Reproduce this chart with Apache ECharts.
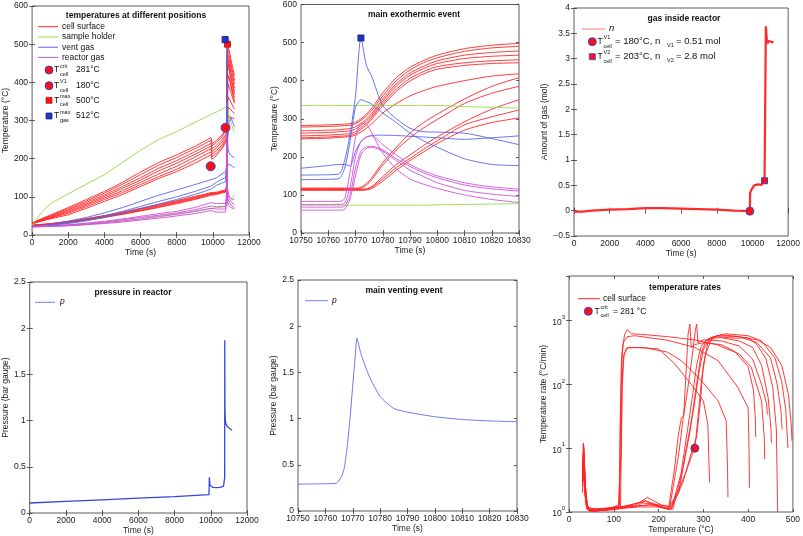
<!DOCTYPE html>
<html><head><meta charset="utf-8">
<script src="https://cdn.jsdelivr.net/npm/echarts@6/dist/echarts.min.js"></script>
<style>html,body{margin:0;padding:0;background:#fff}#c{width:803px;height:536px}</style>
</head><body><div id="c"></div><script>
// ---------------- DATA ----------------
// time bases (s)
const preT  = [0, 500, 1000, 2000, 3000, 4000, 5000, 6000, 7000, 8000, 9000, 9900, 9960, 10200, 10500, 10700];
const evT   = [10750, 10760, 10764, 10766, 10768, 10770, 10772, 10774, 10776, 10780, 10785, 10790, 10795, 10800, 10810, 10820, 10830];
const postT = [10850, 10900, 11000, 11100, 11200];

// cell surface temperatures (°C), 7 high + 5 low cells
const cellPre = [
  [32, 42, 52, 72, 93, 114, 138, 165, 190, 210, 232, 255, 240, 248, 262, 276],
  [32, 41, 50, 69, 89, 110, 133, 158, 183, 203, 226, 248, 234, 243, 257, 272],
  [31, 40, 48, 66, 85, 105, 127, 150, 175, 195, 218, 240, 226, 235, 249, 263],
  [31, 39, 47, 63, 81, 101, 122, 144, 168, 188, 211, 233, 219, 228, 243, 257],
  [30, 38, 45, 60, 78, 97, 116, 138, 160, 180, 204, 226, 212, 221, 236, 250],
  [30, 37, 44, 57, 74, 93, 111, 132, 153, 172, 196, 218, 205, 214, 230, 245],
  [29, 36, 42, 53, 70, 88, 106, 127, 148, 166, 188, 210, 198, 208, 226, 242],
  [26, 28, 30, 36, 43, 51, 60, 70, 80, 90, 101, 111, 108, 112, 116, 118],
  [25, 27, 29, 35, 42, 50, 58, 68, 78, 88, 99, 109, 106, 110, 114, 116],
  [25, 27, 29, 34, 41, 48, 57, 66, 76, 86, 97, 108, 105, 109, 113, 115],
  [24, 26, 28, 33, 40, 47, 55, 64, 74, 84, 95, 106, 104, 108, 112, 114],
  [24, 26, 28, 32, 39, 46, 54, 63, 72, 82, 93, 104, 102, 106, 110, 112]
];
const cellEv = [
  [282, 284, 285, 286, 287, 291, 300, 312, 328, 368, 408, 435, 453, 467, 484, 493, 498],
  [278, 280, 281, 282, 283, 287, 296, 307, 322, 360, 400, 428, 447, 460, 477, 486, 490],
  [268, 270, 271, 273, 274, 279, 288, 299, 314, 352, 392, 420, 438, 452, 467, 474, 478],
  [262, 264, 266, 267, 268, 273, 283, 294, 309, 346, 386, 414, 432, 445, 458, 464, 467],
  [255, 257, 259, 260, 261, 266, 277, 288, 304, 340, 378, 406, 424, 437, 447, 452, 455],
  [250, 252, 254, 255, 256, 261, 272, 283, 299, 334, 372, 399, 418, 430, 440, 445, 447],
  [247, 249, 251, 252, 253, 257, 265, 275, 287, 315, 340, 360, 374, 385, 400, 412, 418],
  [118, 118, 118, 118, 118, 118, 120, 130, 145, 185, 225, 262, 290, 312, 352, 385, 408],
  [116, 116, 116, 116, 116, 116, 118, 126, 140, 178, 218, 250, 276, 298, 340, 367, 385],
  [115, 115, 115, 115, 115, 115, 115, 116, 122, 148, 180, 205, 230, 252, 292, 325, 350],
  [114, 114, 114, 114, 114, 114, 114, 115, 120, 142, 172, 196, 220, 242, 284, 305, 323],
  [112, 112, 112, 112, 112, 112, 112, 113, 117, 136, 165, 190, 213, 235, 270, 290, 302]
];
const cellPost = [
  [497, 485, 460, 438, 418], [488, 474, 448, 425, 405], [476, 462, 437, 415, 395],
  [464, 450, 425, 404, 385], [452, 438, 414, 393, 375], [444, 430, 407, 386, 368],
  [420, 412, 390, 368, 350], [418, 412, 392, 375, 360], [395, 390, 374, 358, 345],
  [362, 358, 348, 338, 330], [335, 332, 328, 322, 318], [312, 310, 308, 306, 305]
];
// sample holder
const holderPre = [
  [25, 57, 82, 108, 133, 158, 190, 222, 250, 271, 295, 316, 318, 322, 330, 334],
  [22, 22, 23, 25, 28, 32, 37, 43, 50, 56, 63, 69, 71, 72, 73, 73]
];
const holderEv = [
  [335, 335, 335, 335, 335, 335, 335, 335, 335, 335, 335, 335, 335, 335, 332, 330, 328],
  [73, 73, 73, 73, 73, 73, 73, 73, 73, 73, 73, 73, 73, 74, 75, 76, 77]
];
const holderPost = [[325, 315, 295, 280, 271], [80, 85, 92, 98, 105]];
// vent gas
const ventPre = [
  [23, 25, 28, 36, 46, 58, 72, 88, 104, 118, 132, 145, 140, 150, 160, 166],
  [22, 24, 26, 32, 40, 50, 62, 75, 88, 100, 114, 128, 128, 138, 146, 150],
  [22, 24, 25, 30, 37, 46, 57, 69, 81, 93, 106, 120, 121, 130, 136, 139]
];
const ventEv = [
  [170, 177, 180, 180, 176, 215, 240, 252, 256, 257, 256, 254, 252, 250, 246, 250, 255],
  [152, 153, 155, 190, 260, 360, 512, 440, 410, 335, 300, 275, 266, 265, 262, 248, 232],
  [140, 141, 143, 170, 240, 330, 350, 345, 338, 315, 290, 262, 242, 225, 195, 180, 177]
];
const ventPost = [[265, 298, 308, 295, 284], [225, 215, 208, 204, 202], [176, 186, 184, 179, 177]];
// reactor gas
const reactorPre = [
  [22, 23, 24, 27, 31, 36, 42, 49, 56, 62, 72, 85, 80, 82, 83, 83],
  [22, 23, 24, 26, 30, 34, 40, 46, 52, 58, 66, 76, 73, 74, 75, 75],
  [21, 22, 23, 25, 28, 32, 37, 42, 48, 54, 61, 70, 67, 68, 68, 68],
  [21, 22, 22, 24, 27, 30, 34, 39, 44, 50, 56, 64, 61, 60, 60, 60]
];
const reactorEv = [
  [83, 83, 83, 90, 160, 250, 288, 285, 262, 210, 168, 142, 128, 117, 100, 88, 80],
  [75, 75, 75, 78, 120, 200, 240, 252, 255, 232, 205, 180, 163, 150, 132, 121, 115],
  [68, 68, 68, 70, 100, 170, 215, 226, 228, 218, 195, 175, 158, 145, 126, 116, 110],
  [60, 60, 60, 62, 90, 150, 205, 222, 225, 215, 190, 165, 148, 132, 112, 102, 96]
];
const reactorPost = [[78, 76, 72, 70, 68], [110, 102, 96, 93, 92], [105, 95, 88, 82, 80], [92, 85, 78, 74, 72]];

// markers panel 1/2 [time, value]
const mCritP1 = [10700, 281];
const mV1P1 = [9880, 180];
const mMaxCellP1 = [10810, 500];
const mMaxGasP1 = [10680, 512];
const mMaxGasP2 = [10772, 512];

// gas inside reactor (mol)
const nT   = [0, 500, 1000, 1500, 2000, 3000, 4000, 5000, 6000, 7000, 8000, 9000, 9850, 9870, 9900, 9950, 10000, 10100, 10300, 10500, 10675, 10740, 10750, 10800, 10850, 10900, 11000, 11100, 11170];
const nVal = [-0.02, -0.02, 0.0, 0.01, 0.02, 0.03, 0.05, 0.05, 0.04, 0.03, 0.02, 0.0, -0.01, 0.35, 0.38, 0.42, 0.45, 0.5, 0.52, 0.51, 0.59, 0.6, 3.64, 3.4, 3.3, 3.35, 3.32, 3.33, 3.31];
const mV1n = [9850, -0.01];
const mV2n = [10675, 0.59];

// pressure (bar gauge)
const pPreT = [0, 2000, 4000, 6000, 8000, 9900, 9920, 9960, 10000, 10100, 10300, 10500, 10700];
const pPre  = [0.108, 0.126, 0.143, 0.16, 0.178, 0.198, 0.385, 0.3, 0.288, 0.278, 0.274, 0.278, 0.288];
const pEvT  = [10750, 10760, 10764, 10766, 10767, 10768, 10769, 10770, 10771, 10771.5, 10773, 10776, 10780, 10785, 10790, 10800, 10810, 10820, 10830];
const pEv   = [0.29, 0.295, 0.30, 0.38, 0.48, 0.7, 1.0, 1.36, 1.7, 1.87, 1.7, 1.46, 1.24, 1.11, 1.07, 1.02, 0.99, 0.975, 0.967];
const pPostT = [10850, 10900, 11000, 11100, 11180];
const pPost  = [0.955, 0.94, 0.92, 0.905, 0.9];

// temperature rates: [T (°C), rate (°C/min)] per cell
const cellRate = [
  [[30,3],[32,8],[34,4],[37,1.6],[42,1.15],[60,1.05],[90,1.1],[110,1.15],[114,1.2],[116,8],[118,80],[121,260],[128,370],[150,380],[200,360],[236,210],[273,100],[300,55],[310,24],[312,8],[314,2.9]],
  [[31,5],[33,11],[35,5],[38,1.5],[45,1.1],[70,1.08],[100,1.12],[115,1.2],[117,10],[119,100],[123,300],[132,380],[170,375],[220,320],[251,235],[296,114],[333,55],[351,27],[354,5],[355,1.7]],
  [[30,2.5],[33,6],[36,2],[40,1.2],[60,1.1],[90,1.15],[112,1.25],[114,20],[117,200],[121,450],[130,560],[147,580],[221,490],[281,380],[333,235],[377,90],[400,43],[402,10],[403,2.4]],
  [[30,4],[32,12],[34,6],[37,1.5],[44,1.05],[70,1.1],[100,1.2],[113,1.3],[115,30],[118,300],[124,600],[130,720],[134,750],[140,620],[160,610],[220,560],[280,500],[330,420],[380,300],[407,186],[430,55],[436,15],[437,6.7]],
  [[30,3],[32,6],[35,2],[40,1.1],[80,1.05],[150,1.2],[170,1.5],[200,1.2],[222,1.1],[236,5],[244,16],[251,30],[256,32],[262,185],[266,620],[270,880],[273,380],[280,420],[300,450],[340,420],[370,330],[400,190],[412,80],[416,30],[417,15]],
  [[31,4],[33,9],[36,2],[41,1.1],[80,1.1],[150,1.3],[175,1.7],[205,1.3],[225,1.2],[245,8],[255,30],[262,60],[270,150],[278,400],[282,700],[285,880],[288,450],[300,500],[340,480],[380,400],[410,250],[430,100],[441,50],[443,34]],
  [[30,5],[33,10],[36,3],[42,1.1],[90,1.1],[160,1.4],[200,1.3],[230,1.2],[250,4],[265,20],[275,60],[285,200],[295,400],[310,520],[340,540],[380,480],[410,380],[430,200],[445,60],[451,20],[452,12]],
  [[30,2],[33,5],[37,1.5],[45,1.05],[100,1.1],[170,1.5],[210,1.2],[232,1.1],[255,5],[270,18],[283,80],[295,300],[305,480],[330,560],[370,530],[400,540],[420,420],[440,250],[455,90],[463,20],[466,1]],
  [[31,3],[34,7],[38,1.3],[46,1.02],[110,1.15],[180,1.3],[220,1.15],[245,2],[262,10],[278,40],[290,150],[300,350],[315,540],[340,600],[380,560],[420,450],[450,260],[465,100],[473,40],[476,19.6]],
  [[30,3.5],[33,8],[36,2.2],[43,1.1],[120,1.2],[190,1.3],[225,1.1],[260,4],[275,8],[281,10],[288,30],[296,120],[305,300],[320,550],[350,620],[400,580],[430,480],[460,260],[475,110],[484,40],[489,10]],
  [[30,2.8],[34,6],[39,1.2],[50,1.0],[130,1.2],[200,1.2],[228,1.1],[255,3],[272,8],[285,15],[293,50],[300,200],[310,450],[330,580],[380,560],[420,500],[450,380],[475,200],[490,70],[496,25],[498,13]]
];
const mCritRate = [281, 10];

// ---------------- CHART ----------------
const FONT = '"Liberation Sans", Arial, Helvetica, sans-serif';
const COL = {cell:'#ff2424', holder:'#8ede45', vent:'#5466ea', reactor:'#d04fd8'};
const zip = (xs, ys) => xs.map((x, i) => [x, ys[i]]);

const grids = [
  {left:31, top:6, width:218, height:229},
  {left:301, top:4, width:218, height:229},
  {left:574, top:8, width:218, height:228},
  {left:27, top:282, width:220, height:231},
  {left:298, top:280, width:219, height:231},
  {left:569, top:276, width:224, height:236}
];
const xSpec = [
  {min:0, max:12000, interval:2000, name:'Time (s)', gap:13},
  {min:10750, max:10830, interval:10, name:'Time (s)', gap:12},
  {min:0, max:12000, interval:2000, name:'Time (s)', gap:9},
  {min:0, max:12000, interval:2000, name:'Time (s)', gap:11},
  {min:10750, max:10830, interval:10, name:'Time (s)', gap:11},
  {min:0, max:500, interval:100, name:'Temperature (°C)', gap:11}
];
const ySpec = [
  {min:0, max:600, interval:100, name:'Temperature (°C)', gap:15},
  {min:0, max:600, interval:100, name:'Temperature (°C)', gap:16},
  {min:-0.5, max:4, interval:0.5, name:'Amount of gas (mol)', gap:15},
  {min:0, max:2.5, interval:0.5, name:'Pressure (bar gauge)', gap:16},
  {min:0, max:2.5, interval:0.5, name:'Pressure (bar gauge)', gap:15},
  {type:'log', min:1, max:5000, name:'Temperature rate (°C/min)', gap:14}
];
const tick = {inside:true, length:3, lineStyle:{color:'#333', width:0.8}};
const xAxis = [], yAxis = [];
for (let side = 0; side < 2; side++) {
  for (let g = 0; g < 6; g++) {
    const s = xSpec[g];
    xAxis.push({
      type:'value', gridIndex:g, min:s.min, max:s.max, interval:s.interval,
      position: side ? 'top' : 'bottom',
      name: side ? '' : s.name, nameLocation:'middle', nameGap:s.gap,
      nameTextStyle:{color:'#222', fontSize:8.5, fontFamily:FONT},
      axisLine:{show:false}, axisTick:tick, splitLine:{show:false},
      axisLabel:{show:!side, color:'#222', fontSize:8.5, fontFamily:FONT, margin:3, hideOverlap:false, showMinLabel:true, showMaxLabel:true,
        formatter: v => String(v)}
    });
  }
}
for (let side = 0; side < 2; side++) {
  for (let g = 0; g < 6; g++) {
    const s = ySpec[g];
    const ax = {
      type: s.type || 'value', gridIndex:g, min:s.min, max:s.max,
      position: side ? 'right' : 'left',
      name: side ? '' : s.name, nameLocation:'middle', nameGap:s.gap,
      nameTextStyle:{color:'#222', fontSize:8.5, fontFamily:FONT},
      axisLine:{show:false}, axisTick:tick, splitLine:{show:false},
      axisLabel:{show:!side, color:'#222', fontSize:8.5, fontFamily:FONT, margin:4, hideOverlap:false, showMinLabel:true, showMaxLabel:true,
        formatter: v => String(v).replace('-', '\u2212')}
    };
    if (s.type === 'log') {
      ax.logBase = 10;
      ax.axisLabel.showMaxLabel = false;
      ax.axisLabel.formatter = v => '{b|10}{s|' + Math.round(Math.log10(v)) + '}';
      ax.axisLabel.rich = {
        b:{fontSize:8.5, fontFamily:FONT, color:'#222', lineHeight:13, verticalAlign:'bottom'},
        s:{fontSize:6, fontFamily:FONT, color:'#222', lineHeight:13, verticalAlign:'top'}
      };
    } else {
      ax.interval = s.interval;
    }
    yAxis.push(ax);
  }
}

const series = [];
function line(g, data, color, w, extra) {
  series.push(Object.assign({type:'line', xAxisIndex:g, yAxisIndex:g, data, symbol:'none', showSymbol:false,
    lineStyle:{color, width:w || 0.9}, silent:true, animation:false, z:2}, extra || {}));
}
function mark(g, pt, shape, fill, stroke, size) {
  series.push({type:'scatter', xAxisIndex:g, yAxisIndex:g, data:[pt], symbol:shape, symbolSize:size,
    itemStyle:{color:fill, borderColor:stroke, borderWidth:1, opacity:1}, silent:true, animation:false, z:5});
}
const fullT = preT.concat(evT, postT);
const groups = [
  [cellPre, cellEv, cellPost, COL.cell],
  [holderPre, holderEv, holderPost, COL.holder],
  [ventPre, ventEv, ventPost, COL.vent],
  [reactorPre, reactorEv, reactorPost, COL.reactor]
];
groups.forEach(([pre, ev, post, c]) => {
  pre.forEach((row, i) => line(0, zip(fullT, row.concat(ev[i], post[i])), c, 0.9));
});
groups.forEach(([pre, ev, post, c]) => {
  ev.forEach(row => line(1, zip(evT, row), c, 0.9, {smooth:0.25}));
});
mark(0, mCritP1, 'circle', '#ff1010', '#3545d0', 9);
mark(0, mV1P1, 'circle', '#ff1010', '#3545d0', 9);
mark(0, mMaxCellP1, 'rect', '#ff1010', '#c02020', 6);
mark(0, mMaxGasP1, 'rect', '#2035c0', '#1a2a90', 6);
mark(1, mMaxGasP2, 'rect', '#2035c0', '#1a2a90', 6);

line(2, zip(nT, nVal), '#ff2a2a', 2.2);
mark(2, mV1n, 'circle', '#ff1010', '#3545d0', 8);
mark(2, mV2n, 'rect', '#ff1010', '#3545d0', 6);

line(3, zip(pPreT.concat(pEvT, pPostT), pPre.concat(pEv, pPost)), '#3347dd', 1.3);
line(4, zip(pEvT, pEv), '#5a6aea', 0.9, {smooth:0.2});

cellRate.forEach(r => line(5, r, COL.cell, 0.9));
mark(5, mCritRate, 'circle', '#ff1010', '#3545d0', 8);

// ---------------- titles & legends (graphic) ----------------
const G = [];
function txt(x, y, s, o) {
  G.push({type:'text', x, y, silent:true, z:20,
    style:Object.assign({text:s, fill:'#111', font:'8px ' + FONT, align:'left', verticalAlign:'middle'}, o || {})});
}
function title(cx, cy, s) { txt(cx, cy, s, {font:'bold 8.5px ' + FONT, align:'center'}); }
function lg(x1, x2, y, color, w) {
  G.push({type:'line', silent:true, z:20, shape:{x1, y1:y, x2, y2:y}, style:{stroke:color, lineWidth:w || 1}});
}
function circ(cx, cy, r, fill, stroke) {
  G.push({type:'circle', silent:true, z:20, shape:{cx, cy, r}, style:{fill, stroke, lineWidth:1}});
}
function sq(cx, cy, h, fill, stroke) {
  G.push({type:'rect', silent:true, z:20, shape:{x:cx - h, y:cy - h, width:2 * h, height:2 * h}, style:{fill, stroke, lineWidth:0.8}});
}
function Tsym(x, y, sup, sub) {
  txt(x, y, 'T', {font:'8.5px ' + FONT});
  txt(x + 6, y - 4, sup, {font:'5.5px ' + FONT});
  txt(x + 6, y + 4.5, sub, {font:'5.5px ' + FONT});
}
const F = '8.5px ' + FONT;
const F3 = '9.5px ' + FONT;
// panel 1
title(136, 16, 'temperatures at different positions');
const lg1 = [['cell surface', COL.cell, 26.7], ['sample holder', COL.holder, 37], ['vent gas', COL.vent, 47.2], ['reactor gas', COL.reactor, 57.4]];
lg1.forEach(([s, c, y]) => { lg(38, 58, y, c, 1); txt(62, y, s, {font:F}); });
circ(49, 70, 4, '#ff1010', '#3545d0'); Tsym(54, 70, 'crit', 'cell'); txt(76, 70, '281°C', {font:F});
circ(49, 85.7, 4, '#ff1010', '#3545d0'); Tsym(54, 85.7, 'V1', 'cell'); txt(76, 85.7, '180°C', {font:F});
sq(49, 100.3, 3, '#ff1010', '#c02020'); Tsym(54, 100.3, 'max', 'cell'); txt(76, 100.3, '500°C', {font:F});
sq(49, 116, 3, '#2035c0', '#1a2a90'); Tsym(54, 116, 'max', 'gas'); txt(76, 116, '512°C', {font:F});
// panel 2
title(414, 15, 'main exothermic event');
// panel 3
title(684, 19, 'gas inside reactor');
lg(582, 605, 29, '#ff8c8c', 1.2); txt(609, 28, 'n', {font:'italic ' + F3});
circ(592.3, 41.7, 4, '#ff1010', '#3545d0'); Tsym(597.5, 41.7, 'V1', 'cell');
txt(615, 41.7, '= 180°C, n', {font:F3}); txt(667, 45.5, 'V1', {font:'5.5px ' + FONT}); txt(676, 41.7, '= 0.51 mol', {font:F3});
sq(592.3, 56.7, 3, '#ff1010', '#3545d0'); Tsym(597.5, 56.7, 'V2', 'cell');
txt(615, 56.7, '= 203°C, n', {font:F3}); txt(667, 60.5, 'V2', {font:'5.5px ' + FONT}); txt(676, 56.7, '= 2.8 mol', {font:F3});
// panel 4
title(133, 293, 'pressure in reactor');
lg(35, 55, 302.3, '#7080ee', 1); txt(60, 302, 'p', {font:'italic ' + F});
// panel 5
title(404, 291, 'main venting event');
lg(305, 328, 300.7, '#7080ee', 1); txt(332, 300.5, 'p', {font:'italic ' + F});
// panel 6
title(685, 288, 'temperature rates');
lg(578, 600, 298.7, COL.cell, 1); txt(603, 298.7, 'cell surface', {font:F});
circ(588.3, 311.3, 4, '#ff1010', '#3545d0'); Tsym(594.5, 311.3, 'crit', 'cell'); txt(613, 311.3, '= 281 °C', {font:F});

const chart = echarts.init(document.getElementById('c'), null, {renderer:'canvas'});
chart.setOption({
  animation:false,
  backgroundColor:'#fff',
  grid: grids.map(g => Object.assign({show:true, borderColor:'#333', borderWidth:0.8, backgroundColor:'transparent', containLabel:false}, g)),
  xAxis, yAxis, series, graphic: G
});
</script></body></html>
